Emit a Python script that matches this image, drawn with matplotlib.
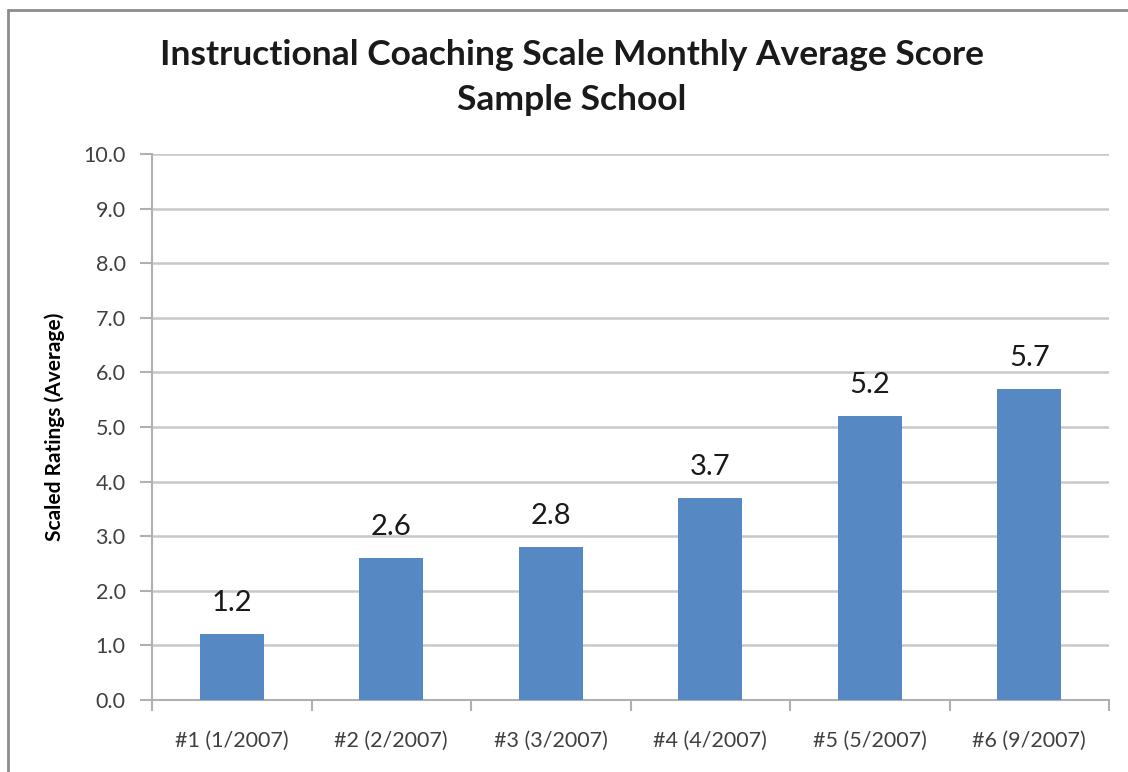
import matplotlib.pyplot as plt
import matplotlib.patches as patches
import numpy as np

categories = ["#1 (1/2007)", "#2 (2/2007)", "#3 (3/2007)", "#4 (4/2007)", "#5 (5/2007)", "#6 (9/2007)"]
scores = [1.2, 2.6, 2.8, 3.7, 5.2, 5.7]
yticks = [0, 1, 2, 3, 4, 5, 6, 7, 8, 9, 10]

plt.rcParams['font.family'] = ['Lato', 'DejaVu Sans']

fig = plt.figure(figsize=(11.28, 7.72), dpi=100)
ax = fig.add_axes([152 / 1128, 1 - 700 / 772, (1109 - 152) / 1128, (700 - 154) / 772])

x = np.arange(len(categories))
ax.bar(x, scores, width=0.4, color='#5689c3', zorder=3)
for xi, v in zip(x, scores):
    ax.annotate(f"{v:.1f}", (xi, v), xytext=(0, 13), textcoords='offset points',
                ha='center', va='bottom', fontsize=21, color='#1a1a1a')

ax.set_xlim(-0.5, len(categories) - 0.5)
ax.set_ylim(0, 10)
ax.set_yticks(yticks)
ax.set_yticklabels([f"{t:.1f}" for t in yticks], fontsize=15.5, color='#404040')
ax.yaxis.grid(True, color='#c8c8c8', linewidth=1.8, zorder=0)
ax.tick_params(axis='y', length=9, width=1.5, color='#b0b0b0', pad=10)

ax.set_xticks(x)
ax.set_xticklabels(categories, fontsize=15.5, color='#404040')
ax.set_xticks(np.arange(-0.5, len(categories)), minor=True)
ax.tick_params(axis='x', which='major', length=0, pad=22)
ax.tick_params(axis='x', which='minor', length=8, width=1.5, color='#b0b0b0')

for s in ['top', 'right']:
    ax.spines[s].set_visible(False)
for s in ['left', 'bottom']:
    ax.spines[s].set_color('#b0b0b0')
    ax.spines[s].set_linewidth(1.5)

ax.set_ylabel("Scaled Ratings (Average)", fontsize=15, fontweight='bold')
ax.yaxis.set_label_coords(-(152 - 65) / (1109 - 152), 0.5)

fig.text(572 / 1128, 1 - 55 / 772, "Instructional Coaching Scale Monthly Average Score",
         ha='center', va='center', fontsize=25.5, fontweight='bold', color='#1a1a1a')
fig.text(572 / 1128, 1 - 100 / 772, "Sample School",
         ha='center', va='center', fontsize=25.5, fontweight='bold', color='#1a1a1a')

# outer chart frame
fig.patches.append(patches.Rectangle((8 / 1128, -0.05), 1.1, 1 - 10 / 772 + 0.05,
                                     transform=fig.transFigure, fill=False,
                                     edgecolor='#8c8c8c', linewidth=2))

plt.savefig("out.png", dpi=100)
